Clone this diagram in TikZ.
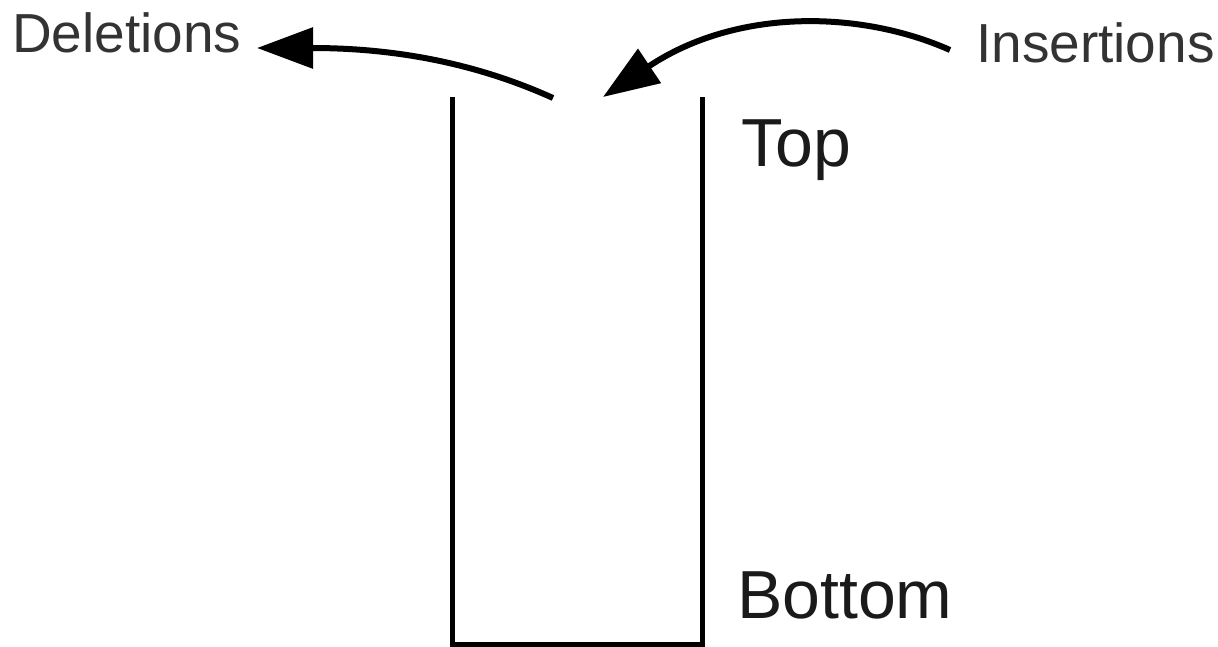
\documentclass[tikz,border=0pt]{standalone}
\usepackage{fontspec}
\setmainfont{Liberation Sans}
\usetikzlibrary{arrows.meta}
\definecolor{lbl}{HTML}{333333}
\definecolor{biglbl}{HTML}{1A1A1A}
\begin{document}
\begin{tikzpicture}[x=1pt,y=-1pt,
  smalllbl/.style={anchor=base west,inner sep=0pt,text=lbl,font=\fontsize{55}{60}\selectfont},
  largelbl/.style={anchor=base west,inner sep=0pt,text=biglbl,font=\fontsize{68}{72}\selectfont},
  wall/.style={line width=5pt,draw=black,line join=miter},
  flow/.style={line width=6pt,draw=black,-{Triangle[length=56pt,width=40pt]}}]
\useasboundingbox (0,0) rectangle (1218,647);
\fill[white] (0,0) rectangle (1218,647);
% container
\coordinate (tl) at (452,97);
\coordinate (bl) at (452,644);
\coordinate (br) at (702,644);
\coordinate (tr) at (702,97);
\draw[wall] (tl) -- (bl) -- (br) -- (tr);
% labels
\node[smalllbl] (del) at (12,53) {Deletions};
\node[smalllbl] (ins) at (976,63) {Insertions};
\node[largelbl] (top) at (741,167) {Top};
\node[largelbl] (bot) at (737,618) {Bottom};
% arrows
\coordinate (deltail) at (553,98);
\coordinate (deltip) at (257,48);
\coordinate (instail) at (950,50);
\coordinate (instip) at (603,97);
\draw[flow] (deltail) .. controls (480,65) and (400,48) .. (deltip);
\draw[flow] (instail) .. controls (860,10) and (736,8) .. (instip);
\end{tikzpicture}
\end{document}
